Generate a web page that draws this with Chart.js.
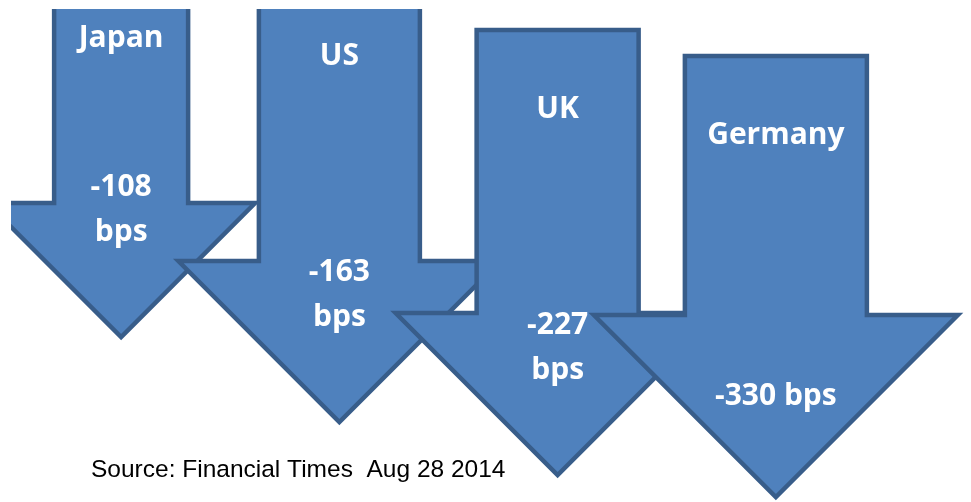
<!DOCTYPE html>
<html>
<head>
<meta charset="utf-8">
<script src="https://cdn.jsdelivr.net/npm/chart.js@4.4.1/dist/chart.umd.min.js"></script>
<style>
  body { margin: 0; background: #fff; }
  #wrap { width: 971px; height: 502px; }
</style>
</head>
<body>
<div id="wrap"><canvas id="chart"></canvas></div>
<script>
// data
const countries = ['Japan', 'US', 'UK', 'Germany'];
const changeBps = [-108, -163, -227, -330];
// start and end of each arrow on the (hidden) depth axis
const arrowTop = [-50, -32, 21, 47];
const arrowTip = [328, 413, 466, 488];
const sourceNote = 'Source: Financial Times  Aug 28 2014';

// styling
const arrowWidths = [134, 161, 162, 182];
const fillColor = '#4f81bd';
const lineColor = '#385d8a';
const labelFont = 'bold 30px "Open Sans", Lato, sans-serif';

// draws each floating bar as a big down arrow, plus its labels
const arrowPlugin = {
    id: 'arrows',
    afterDatasetsDraw(chart) {
        const ctx = chart.ctx;
        ctx.save();
        ctx.beginPath();
        ctx.rect(11, 9, chart.width - 11, chart.height - 9);
        ctx.clip();

        chart.data.datasets.forEach(function (ds, i) {
            const bar = chart.getDatasetMeta(i).data[i];
            const cx = bar.x;
            const w = bar.width;
            const top = Math.min(bar.y, bar.base);
            const tip = Math.max(bar.y, bar.base);
            const head = w; // 45 degree head, sticks out a shaft width on each side

            ctx.beginPath();
            ctx.moveTo(cx - w / 2, top);
            ctx.lineTo(cx + w / 2, top);
            ctx.lineTo(cx + w / 2, tip - head);
            ctx.lineTo(cx + head, tip - head);
            ctx.lineTo(cx, tip);
            ctx.lineTo(cx - head, tip - head);
            ctx.lineTo(cx - w / 2, tip - head);
            ctx.closePath();
            ctx.fillStyle = fillColor;
            ctx.fill();
            ctx.lineWidth = 4.5;
            ctx.lineJoin = 'miter';
            ctx.strokeStyle = lineColor;
            ctx.stroke();

            ctx.fillStyle = '#fff';
            ctx.font = labelFont;
            ctx.textAlign = 'center';
            ctx.textBaseline = 'alphabetic';
            ctx.fillText(countries[i], cx, top + 88);

            const value = String(changeBps[i]);
            if (w > 175) {
                ctx.fillText(value + ' bps', cx, tip - 92);
            } else {
                ctx.fillText(value, cx, tip - 141);
                ctx.fillText('bps', cx, tip - 96);
            }
        });
        ctx.restore();
    },
    afterDraw(chart) {
        const ctx = chart.ctx;
        ctx.save();
        ctx.fillStyle = '#000';
        ctx.font = '24.5px "Liberation Sans", Arial, sans-serif';
        ctx.textAlign = 'left';
        ctx.fillText(sourceNote, 91, 477);
        ctx.restore();
    }
};

// one dataset per arrow so each one can have its own width
const datasets = countries.map(function (name, i) {
    return {
        label: name,
        data: countries.map((_, j) => j === i ? [arrowTop[i], arrowTip[i]] : null),
        barThickness: arrowWidths[i],
        backgroundColor: 'rgba(0,0,0,0)',
        borderWidth: 0
    };
});

const ctx = document.getElementById('chart').getContext('2d');
const myChart = new Chart(ctx, {
    type: 'bar',
    data: {
        labels: countries,
        datasets: datasets
    },
    options: {
        responsive: true,
        maintainAspectRatio: false,
        animation: false,
        events: [],
        grouped: false,
        skipNull: true,
        layout: {
            padding: { left: 12, right: 86, top: 9, bottom: 0 }
        },
        plugins: {
            legend: { display: false },
            tooltip: { enabled: false }
        },
        scales: {
            x: { display: false, offset: true },
            y: { display: false, reverse: true, min: 0, max: 493 }
        }
    },
    plugins: [arrowPlugin]
});
</script>
</body>
</html>
